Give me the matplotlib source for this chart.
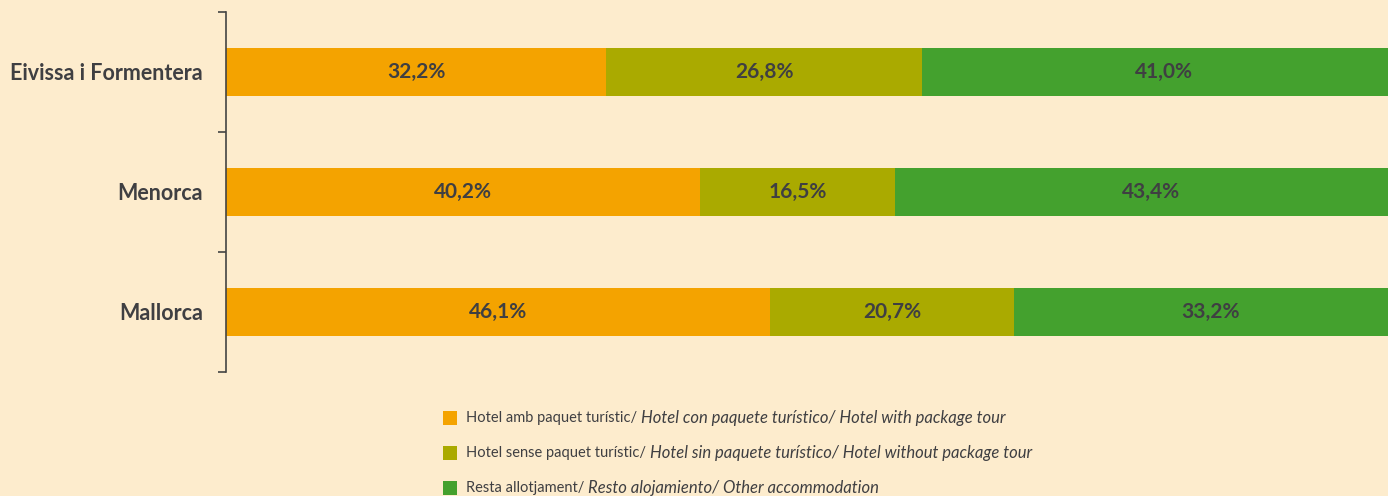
import matplotlib
matplotlib.use("Agg")
import matplotlib.pyplot as plt
from matplotlib.patches import Rectangle

categories = ["Eivissa i Formentera", "Menorca", "Mallorca"]
hotel_package = [32.2, 40.2, 46.1]
hotel_no_package = [26.8, 16.5, 20.7]
other_accommodation = [41.0, 43.4, 33.2]
series_values = [hotel_package, hotel_no_package, other_accommodation]
series_ca = ["Hotel amb paquet turístic/ ", "Hotel sense paquet turístic/ ", "Resta allotjament/ "]
series_es_en = ["Hotel con paquete turístico/ Hotel with package tour",
                "Hotel sin paquete turístico/ Hotel without package tour",
                "Resto alojamiento/ Other accommodation"]
colors = ["#F4A300", "#AAAA00", "#44A12E"]
bg = "#FDECCD"
txt = "#3F3F42"

plt.rcParams['font.family'] = ['Lato', 'DejaVu Sans']

W, H = 1388, 496
fig = plt.figure(figsize=(W / 100, H / 100), dpi=100, facecolor=bg)
# the plotting area runs slightly past the right edge of the picture
ax = fig.add_axes([226 / W, (H - 372) / H, 1180 / W, 360 / H])
ax.set_facecolor(bg)

ypos = list(range(len(categories)))
left = [0.0] * len(categories)
for vals, col in zip(series_values, colors):
    ax.barh(ypos, vals, left=left, height=0.4, color=col, edgecolor='none')
    for y, l, v in zip(ypos, left, vals):
        ax.text(l + v / 2, y, f"{v:.1f}%".replace('.', ','), ha='center', va='center',
                fontsize=15, fontweight='bold', color=txt)
    left = [a + b for a, b in zip(left, vals)]

ax.set_xlim(0, 100)
ax.set_ylim(2.5, -0.5)
ax.set_yticks([-0.5, 0.5, 1.5, 2.5])
ax.set_yticklabels([])
ax.set_yticks(ypos, minor=True)
ax.set_yticklabels(categories, minor=True, fontsize=15.5, fontweight='bold', color=txt)
ax.tick_params(axis='y', which='major', length=6, width=1.2, color='#444444', direction='out')
ax.tick_params(axis='y', which='minor', length=0, pad=16.5)
ax.set_xticks([])
for s in ['top', 'right', 'bottom']:
    ax.spines[s].set_visible(False)
ax.spines['left'].set_color('#444444')
ax.spines['left'].set_linewidth(1.2)

# legend
legend_y = [418, 453, 488]
for col, ca, rest, ly in zip(colors, series_ca, series_es_en, legend_y):
    fig.patches.append(Rectangle((443 / W, (H - ly - 7) / H), 14 / W, 14 / H,
                                 transform=fig.transFigure, facecolor=col, edgecolor='none'))
    t1 = fig.text(466 / W, (H - ly) / H, ca, fontsize=10.5, color=txt, va='center', ha='left')
    fig.canvas.draw()
    ax.annotate(rest, xy=(1, 0.5), xycoords=t1, va='center', ha='left',
                fontsize=12, style='italic', color=txt, annotation_clip=False)

fig.savefig("out.png", dpi=100, facecolor=bg)
